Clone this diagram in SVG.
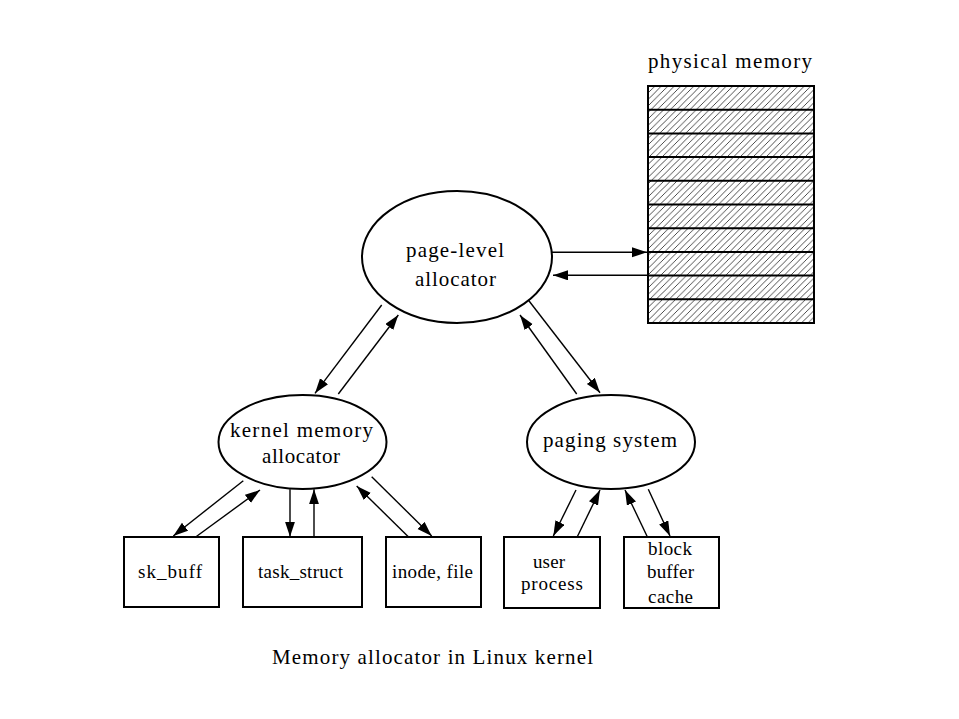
<svg xmlns="http://www.w3.org/2000/svg" width="959" height="719" viewBox="0 0 959 719">
<style>
text{font-family:"Liberation Serif","Times New Roman",serif;fill:#000}
.lab{font-size:21px}
.box{font-size:19px}
.node{fill:#fff;stroke:#000;stroke-width:2}
.ar{stroke:#000;stroke-width:1.4;fill:none;marker-end:url(#ah)}
</style>
<defs>
<marker id="ah" markerUnits="userSpaceOnUse" markerWidth="16" markerHeight="11" refX="15" refY="5" orient="auto">
<path d="M0,0 L15,5 L0,10 z" fill="#000"/>
</marker>
<pattern id="hatch" patternUnits="userSpaceOnUse" width="6.5" height="6.5">
<path d="M0,6.5 L6.5,0 M-1,1 L1,-1 M5.5,7.5 L7.5,5.5" stroke="#000" stroke-width="0.7"/>
</pattern>
</defs>
<rect width="959" height="719" fill="#fff"/>

<g id="physical-memory">
<text class="lab" x="648" y="68" textLength="164" lengthAdjust="spacing">physical memory</text>
<rect x="648" y="86" width="166" height="237" fill="url(#hatch)" stroke="#000" stroke-width="2"/>
<path d="M648,109.7H814M648,133.4H814M648,157.1H814M648,180.8H814M648,204.5H814M648,228.2H814M648,251.9H814M648,275.6H814M648,299.3H814" stroke="#000" stroke-width="2"/>
</g>

<g id="page-level-allocator">
<ellipse class="node" cx="457" cy="257" rx="95" ry="66"/>
<text class="lab" x="406" y="257" textLength="98" lengthAdjust="spacing">page-level</text>
<text class="lab" x="415" y="286" textLength="81" lengthAdjust="spacing">allocator</text>
</g>

<g id="kernel-memory-allocator">
<ellipse class="node" cx="302.5" cy="442" rx="84" ry="47"/>
<text class="lab" x="230" y="437" textLength="143" lengthAdjust="spacing">kernel memory</text>
<text class="lab" x="262" y="463" textLength="78" lengthAdjust="spacing">allocator</text>
</g>

<g id="paging-system">
<ellipse class="node" cx="611" cy="442" rx="84" ry="47"/>
<text class="lab" x="543" y="447" textLength="134" lengthAdjust="spacing">paging system</text>
</g>

<g id="sk_buff">
<rect class="node" x="124" y="537" width="95" height="70"/>
<text class="box" x="138" y="578" textLength="64" lengthAdjust="spacing">sk_buff</text>
</g>
<g id="task_struct">
<rect class="node" x="243" y="537" width="119" height="70"/>
<text class="box" x="258" y="578" textLength="85" lengthAdjust="spacing">task_struct</text>
</g>
<g id="inode-file">
<rect class="node" x="386" y="537" width="95" height="70"/>
<text class="box" x="392" y="578" textLength="81" lengthAdjust="spacing">inode, file</text>
</g>
<g id="user-process">
<rect class="node" x="504" y="537" width="96" height="71"/>
<text class="box" x="533" y="568" textLength="32" lengthAdjust="spacing">user</text>
<text class="box" x="521" y="590" textLength="62" lengthAdjust="spacing">process</text>
</g>
<g id="block-buffer-cache">
<rect class="node" x="624" y="537" width="95" height="71"/>
<text class="box" x="648" y="555" textLength="44" lengthAdjust="spacing">block</text>
<text class="box" x="647" y="578" textLength="47" lengthAdjust="spacing">buffer</text>
<text class="box" x="648" y="603" textLength="45" lengthAdjust="spacing">cache</text>
</g>

<g id="connectors">
<line class="ar" x1="552" y1="252.3" x2="647" y2="252.3"/>
<line class="ar" x1="648" y1="275.3" x2="553" y2="275.3"/>
<line class="ar" x1="381.7" y1="305" x2="315" y2="393.3"/>
<line class="ar" x1="338.3" y1="394" x2="398.3" y2="315"/>
<line class="ar" x1="528.3" y1="300" x2="600" y2="392.7"/>
<line class="ar" x1="576.7" y1="394" x2="520" y2="315"/>
<line class="ar" x1="243.3" y1="480.7" x2="173.3" y2="536"/>
<line class="ar" x1="196" y1="536.7" x2="260" y2="490"/>
<line class="ar" x1="290" y1="489.3" x2="290" y2="536.7"/>
<line class="ar" x1="314" y1="537" x2="314" y2="489.3"/>
<line class="ar" x1="408.3" y1="536.7" x2="356.7" y2="486"/>
<line class="ar" x1="371.7" y1="476.7" x2="431.7" y2="536"/>
<line class="ar" x1="576" y1="490" x2="553.3" y2="536"/>
<line class="ar" x1="577.3" y1="536.7" x2="600" y2="490"/>
<line class="ar" x1="647.3" y1="536.7" x2="625" y2="490"/>
<line class="ar" x1="648.3" y1="489.3" x2="670" y2="536"/>
</g>

<text id="caption" style="font-size:21px" x="272" y="664" textLength="321" lengthAdjust="spacing">Memory allocator in Linux kernel</text>
</svg>
